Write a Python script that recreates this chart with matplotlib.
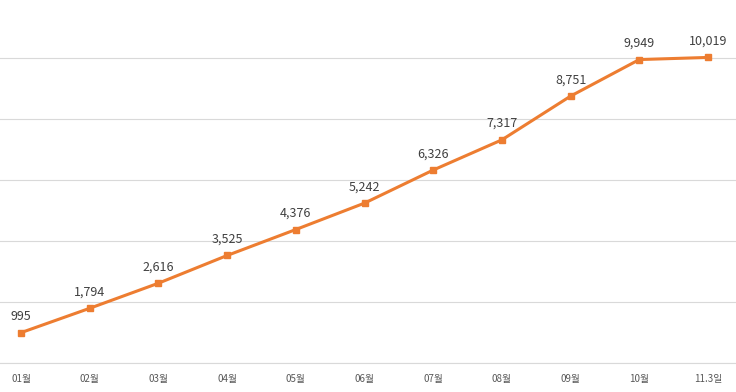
import matplotlib
matplotlib.use("Agg")
import matplotlib.pyplot as plt

plt.rcParams['font.family'] = ['Noto Sans CJK KR', 'DejaVu Sans']

categories = ["01월", "02월", "03월", "04월", "05월", "06월", "07월", "08월", "09월", "10월", "11.3일"]
values = [995, 1794, 2616, 3525, 4376, 5242, 6326, 7317, 8751, 9949, 10019]

fig = plt.figure(figsize=(7.36, 3.92), dpi=100)
ax = fig.add_axes([0, 1 - 363/392, 1, 363/392])
x = list(range(len(categories)))
ax.plot(x, values, color="#ED7D31", linewidth=2.2, marker="s", markersize=5, zorder=3)
for xi, v in zip(x, values):
    ax.annotate(f"{v:,}", (xi, v), xytext=(0, 7), textcoords="offset points",
                ha="center", va="bottom", fontsize=9, color="#404040")

ax.set_xlim(-21/68.7, 10 + 28/68.7)
ax.set_ylim(0, 11902)
ax.set_yticks([0, 2000, 4000, 6000, 8000, 10000])
ax.yaxis.grid(True, color="#D9D9D9", linewidth=0.8)
ax.set_axisbelow(True)
ax.tick_params(axis="y", left=False, labelleft=False)
ax.set_xticks(x)
ax.set_xticklabels(categories, fontsize=7, color="#595959")
ax.tick_params(axis="x", length=0, pad=8)
for s in ["top", "right", "left"]:
    ax.spines[s].set_visible(False)
ax.spines["bottom"].set_color("#D9D9D9")
ax.spines["bottom"].set_linewidth(0.8)

fig.savefig("out.png", dpi=100)
